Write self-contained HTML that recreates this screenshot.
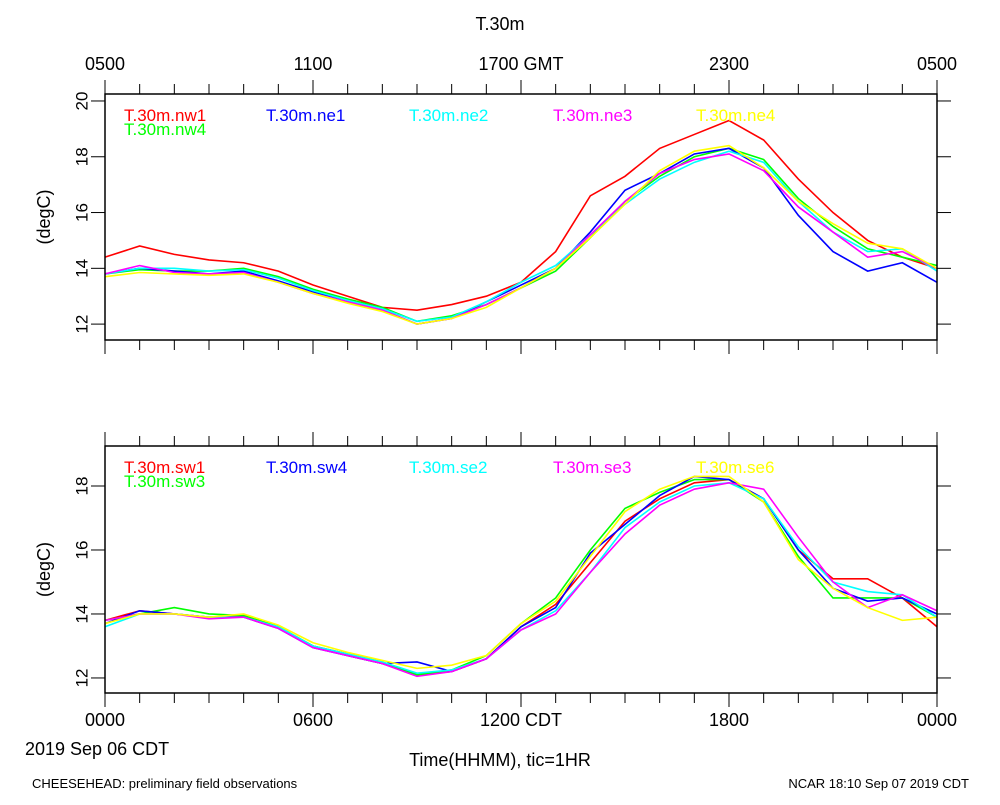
<!DOCTYPE html>
<html><head><meta charset="utf-8"><style>
body{margin:0;background:#fff;}
svg{font-family:"Liberation Sans",sans-serif;}
</style></head><body>
<svg id="c" width="1000" height="800">
<text x="500" y="30" font-size="18" text-anchor="middle">T.30m</text>
<g font-size="18" text-anchor="middle">
<text x="105" y="70">0500</text><text x="313" y="70">1100</text><text x="521" y="70">1700 GMT</text><text x="729" y="70">2300</text><text x="937" y="70">0500</text>
</g>
<g font-size="18" text-anchor="middle">
<text x="105" y="726">0000</text><text x="313" y="726">0600</text><text x="521" y="726">1200 CDT</text><text x="729" y="726">1800</text><text x="937" y="726">0000</text>
</g>
<text x="25" y="755" font-size="18">2019 Sep 06 CDT</text>
<text x="500" y="766" font-size="18" text-anchor="middle">Time(HHMM), tic=1HR</text>
<text x="32" y="788" font-size="13">CHEESEHEAD: preliminary field observations</text>
<text x="969" y="788" font-size="13" text-anchor="end">NCAR 18:10 Sep 07 2019 CDT</text>
</svg>
<script>
const hours=[0,1,2,3,4,5,6,7,8,9,10,11,12,13,14,15,16,17,18,19,20,21,22,23,24];
const colors=["#ff0000","#00ff00","#0000ff","#00ffff","#ff00ff","#ffff00"];
const topNames=["T.30m.nw1","T.30m.nw4","T.30m.ne1","T.30m.ne2","T.30m.ne3","T.30m.ne4"];
const botNames=["T.30m.sw1","T.30m.sw3","T.30m.sw4","T.30m.se2","T.30m.se3","T.30m.se6"];
const topTicks=[12,14,16,18,20];
const botTicks=[12,14,16,18];
const nw1=[14.4,14.8,14.5,14.3,14.2,13.9,13.4,13.0,12.6,12.5,12.7,13.0,13.5,14.6,16.6,17.3,18.3,18.8,19.3,18.6,17.2,16.0,15.0,14.4,14.0];
const nw4=[13.8,13.95,13.9,13.9,14.0,13.7,13.25,12.9,12.6,12.1,12.3,12.7,13.3,13.9,15.1,16.4,17.3,18.0,18.3,17.9,16.5,15.5,14.7,14.4,14.1];
const ne1=[13.8,14.0,13.9,13.8,13.9,13.55,13.15,12.8,12.5,12.0,12.2,12.8,13.4,14.0,15.3,16.8,17.4,18.1,18.3,17.6,15.9,14.6,13.9,14.2,13.5];
const ne2=[13.8,14.0,14.0,13.9,13.95,13.65,13.2,12.85,12.55,12.1,12.25,12.8,13.5,14.1,15.2,16.3,17.2,17.8,18.2,17.8,16.4,15.3,14.6,14.7,13.9];
const ne3=[13.8,14.1,13.85,13.8,13.85,13.5,13.1,12.8,12.5,12.0,12.2,12.7,13.3,14.0,15.2,16.4,17.4,17.9,18.1,17.5,16.2,15.3,14.4,14.6,14.0];
const ne4=[13.7,13.85,13.8,13.75,13.8,13.5,13.1,12.75,12.45,12.0,12.2,12.6,13.3,14.0,15.1,16.3,17.5,18.2,18.4,17.6,16.4,15.6,14.9,14.7,14.0];
const sw1=[13.8,14.1,14.0,13.9,13.95,13.6,13.0,12.75,12.5,12.1,12.2,12.6,13.6,14.3,15.6,16.9,17.6,18.1,18.2,17.6,16.0,15.1,15.1,14.5,13.6];
const sw3=[13.8,14.0,14.2,14.0,13.95,13.6,13.0,12.7,12.45,12.1,12.25,12.7,13.7,14.5,16.0,17.3,17.8,18.2,18.2,17.5,15.8,14.5,14.5,14.5,13.9];
const sw4=[13.7,14.1,14.0,13.9,13.9,13.55,12.95,12.7,12.45,12.5,12.2,12.6,13.6,14.2,15.9,16.8,17.7,18.3,18.2,17.6,16.0,14.8,14.4,14.5,14.0];
const se2=[13.6,14.0,14.0,13.9,13.9,13.6,13.0,12.75,12.5,12.15,12.25,12.6,13.5,14.1,15.3,16.7,17.5,18.0,18.1,17.6,16.1,15.0,14.7,14.6,13.9];
const se3=[13.8,14.0,14.0,13.85,13.9,13.55,12.95,12.7,12.45,12.05,12.2,12.6,13.5,14.0,15.3,16.5,17.4,17.9,18.1,17.9,16.4,15.0,14.2,14.6,14.1];
const se6=[13.7,14.0,14.0,13.9,14.0,13.65,13.1,12.8,12.55,12.3,12.4,12.7,13.7,14.4,15.8,17.2,17.9,18.3,18.3,17.5,15.7,14.8,14.2,13.8,13.9];
const topSeries=[nw1,nw4,ne1,ne2,ne3,ne4];
const botSeries=[sw1,sw3,sw4,se2,se3,se6];
const NS="http://www.w3.org/2000/svg";
const svg=document.getElementById('c');
function mk(t,a,p){const e=document.createElementNS(NS,t);for(const k in a)e.setAttribute(k,a[k]);(p||svg).appendChild(e);return e;}
const X0=105,X1=937;
function xs(h){return X0+(X1-X0)*h/24;}
function panel(name,top,bot,ymin,ymax,ticks,series,names){
  const g=mk('g',{});
  
  
  const ys=v=>bot-(v-ymin)/(ymax-ymin)*(bot-top);
  series.forEach((s,i)=>{
    const p=mk('polyline',{points:s.map((v,j)=>xs(hours[j])+','+ys(v)).join(' '),fill:'none',stroke:colors[i],'stroke-width':1.6},g);
    
    
  });
  const f=mk('rect',{x:X0,y:top,width:X1-X0,height:bot-top,fill:'none',stroke:'#000','stroke-width':1.5},g);
  
  
  for(let h=0;h<=24;h++){
    const len=h%6==0?14:10;
    mk('line',{x1:xs(h),x2:xs(h),y1:bot,y2:bot+len,stroke:'#000','stroke-width':1},g);
    mk('line',{x1:xs(h),x2:xs(h),y1:top,y2:top-len,stroke:'#000','stroke-width':1},g);
  }
  ticks.forEach(t=>{
    const y=ys(t);
    mk('line',{x1:X0-14,x2:X0,y1:y,y2:y,stroke:'#000'},g);
    mk('line',{x1:X1,x2:X1+14,y1:y,y2:y,stroke:'#000'},g);
    const tx=mk('text',{x:X0-22,y:y,'font-size':17,'text-anchor':'middle',transform:'rotate(-90 '+(X0-22)+' '+y+')','dominant-baseline':'middle'},g);
    tx.textContent=t;
    
    
  });
  const yl=mk('text',{x:50,y:(top+bot)/2,'font-size':18,'text-anchor':'middle',transform:'rotate(-90 50 '+(top+bot)/2+')'},g);
  yl.textContent='(degC)';
  
  
  const lx=[124,124,266,409,553,696],ly=[top+27,top+41,top+27,top+27,top+27,top+27];
  names.forEach((n,i)=>{
    const t=mk('text',{x:lx[i],y:ly[i],'font-size':17,fill:colors[i]},g);
    t.textContent=n;
    
    
  });
}
panel('top-panel',94,340,11.43,20.25,topTicks,topSeries,topNames);
panel('bottom-panel',446,693,11.53,19.25,botTicks,botSeries,botNames);
</script>
</body></html>
